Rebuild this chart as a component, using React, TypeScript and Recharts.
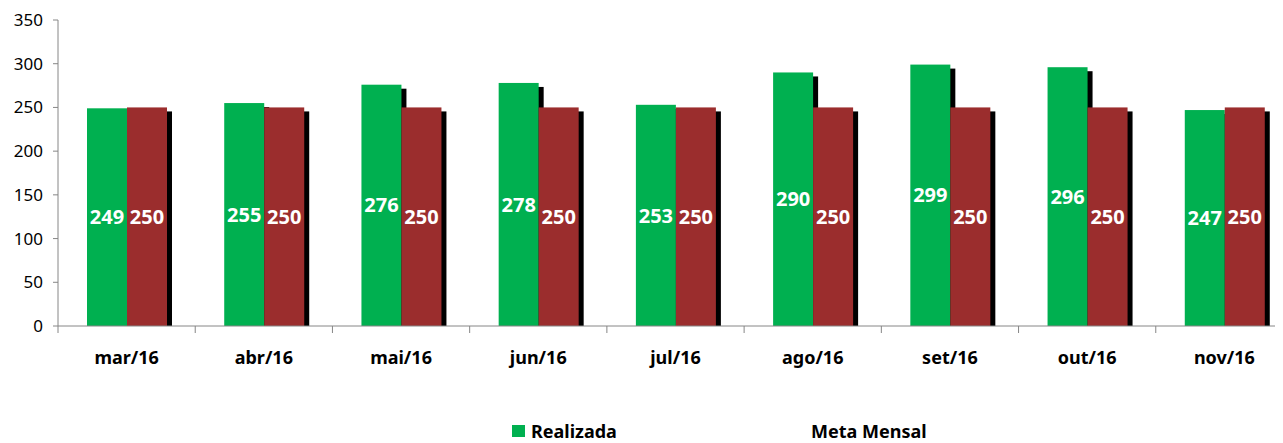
import { BarChart, Bar, XAxis, YAxis, LabelList, Legend } from 'recharts'

const months = ['mar/16', 'abr/16', 'mai/16', 'jun/16', 'jul/16', 'ago/16', 'set/16', 'out/16', 'nov/16']
const realizada = [249, 255, 276, 278, 253, 290, 299, 296, 247]
const metaMensal = [250, 250, 250, 250, 250, 250, 250, 250, 250]
const yTicks = [0, 50, 100, 150, 200, 250, 300, 350]

const data = months.map((m, i) => ({ month: m, realizada: realizada[i], meta: metaMensal[i] }))

const CHART_W = 1300
const MARGIN = { top: 20, right: 7, left: 0, bottom: 0 }
const Y_W = 58
const BAND = (CHART_W - MARGIN.left - MARGIN.right - Y_W) / months.length
const AXIS_Y = 326
const FONT = '"Noto Sans", sans-serif'

// Excel-like bar with a hard black shadow offset right/down
const ShadowBar = (props: any) => {
  const { x, y, width, height, fill } = props
  if (!height || height <= 0) return null
  return (
    <g>
      <rect x={x + 5} y={y + 4} width={width} height={Math.max(height - 4, 0)} fill="#000" />
      <rect x={x} y={y} width={width} height={height} fill={fill} />
    </g>
  )
}

const MonthTick = (props: any) => {
  const { x, payload } = props
  const left = x - BAND / 2
  return (
    <g>
      <line x1={left} y1={AXIS_Y} x2={left} y2={AXIS_Y + 7} stroke="#868686" />
      <text x={x} y={357} textAnchor="middle" dominantBaseline="central" fontFamily={FONT} fontSize={18} fontWeight="bold" fill="#000">
        {payload.value}
      </text>
    </g>
  )
}

const LegendContent = () => (
  <div style={{ position: 'relative', height: 20, fontFamily: FONT, fontSize: 18, fontWeight: 'bold', lineHeight: '18px', color: '#000' }}>
    <span style={{ position: 'absolute', left: 512, top: 3, width: 13, height: 12, background: '#00B050' }} />
    <span style={{ position: 'absolute', left: 531, top: 0, whiteSpace: 'nowrap' }}>Realizada</span>
    <span style={{ position: 'absolute', left: 811, top: 0, whiteSpace: 'nowrap' }}>Meta Mensal</span>
  </div>
)

export default function App() {
  return (
    <div style={{ marginLeft: -8, marginTop: -8, width: 1283, height: 443, overflow: 'hidden', background: '#fff' }}>
      <BarChart width={CHART_W} height={443} data={data} margin={MARGIN} barSize={40} barGap={0}>
        <YAxis
          width={Y_W}
          domain={[0, 350]}
          ticks={yTicks}
          interval={0}
          axisLine={{ stroke: '#868686' }}
          tickLine={{ stroke: '#868686' }}
          tickSize={5}
          tickMargin={10}
          tick={{ fill: '#000', fontFamily: FONT, fontSize: 17 }}
        />
        <XAxis
          dataKey="month"
          height={443 - AXIS_Y}
          interval={0}
          axisLine={{ stroke: '#868686' }}
          tickLine={false}
          tick={<MonthTick />}
        />
        <Legend
          verticalAlign="middle"
          align="center"
          content={<LegendContent />}
          wrapperStyle={{ top: 422, left: 0, width: CHART_W }}
        />
        <Bar dataKey="realizada" name="Realizada" fill="#00B050" shape={<ShadowBar />} isAnimationActive={false}>
          <LabelList dataKey="realizada" position="center" fill="#fff" fontFamily={FONT} fontSize={20} fontWeight="bold" />
        </Bar>
        <Bar dataKey="meta" name="Meta Mensal" fill="#9B2D2D" shape={<ShadowBar />} isAnimationActive={false}>
          <LabelList dataKey="meta" position="center" fill="#fff" fontFamily={FONT} fontSize={20} fontWeight="bold" />
        </Bar>
      </BarChart>
    </div>
  )
}
